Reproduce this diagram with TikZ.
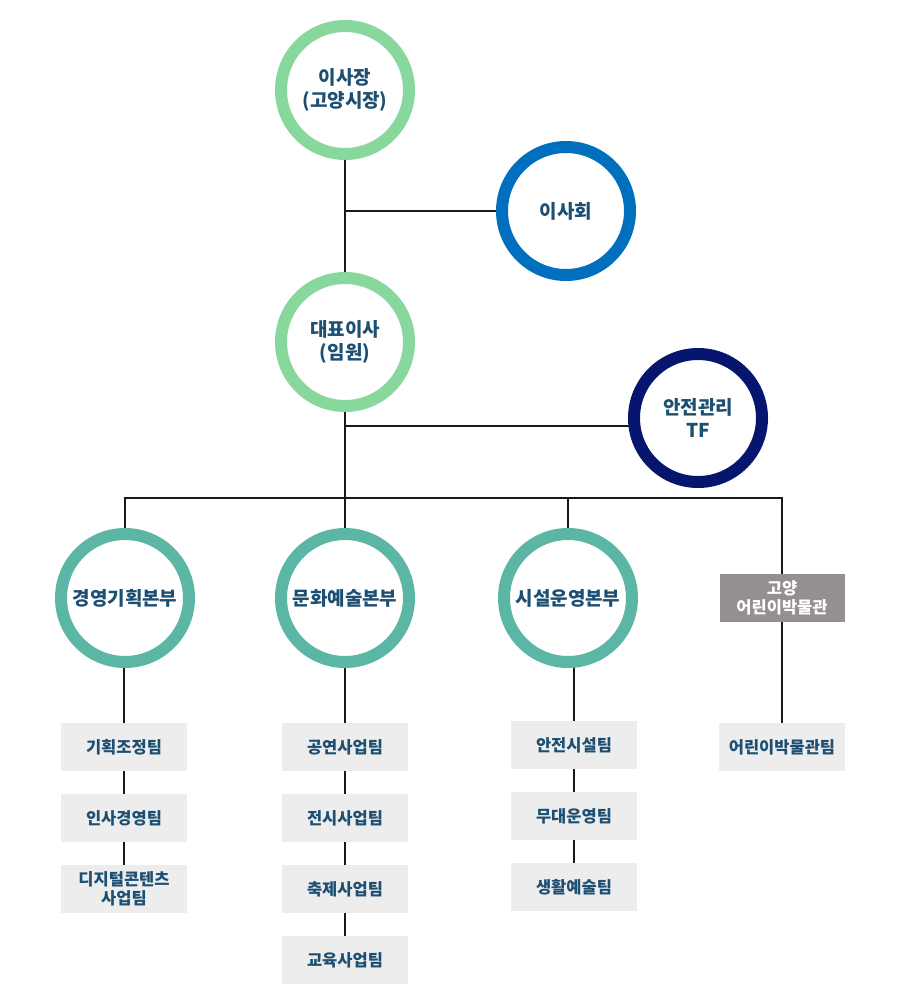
\documentclass[tikz,border=0pt]{standalone}
\usepackage{fontspec}
\setmainfont{Noto Sans CJK KR}
\usetikzlibrary{backgrounds}
\definecolor{lgreen}{HTML}{88D89E}
\definecolor{bblue}{HTML}{0070BE}
\definecolor{navy}{HTML}{06166E}
\definecolor{teal2}{HTML}{5CB6A6}
\definecolor{mgray}{HTML}{958F90}
\definecolor{boxgray}{HTML}{EDEDED}
\definecolor{txt}{HTML}{1D4F73}
\tikzset{
  ring/.style={circle, draw=#1, line width=12pt, fill=white, minimum size=128pt, inner sep=0pt,
    text=txt, font=\fontsize{19}{23}\selectfont\bfseries, align=center},
  team/.style={rectangle, fill=boxgray, minimum width=126pt, minimum height=48pt, inner sep=0pt,
    text=txt, font=\fontsize{16.5}{18.5}\selectfont\bfseries, align=center},
  conn/.style={line width=2pt, draw=black!90}
}
\begin{document}
\begin{tikzpicture}[x=1pt,y=-1pt]
\useasboundingbox (0,0) rectangle (900,1000);
\node[ring=lgreen] (chair) at (345,90) {이사장\\(고양시장)};
\node[ring=bblue] (board) at (566,211) {이사회};
\node[ring=lgreen] (ceo) at (345,342) {대표이사\\(임원)};
\node[ring=navy] (tf) at (698,418) {안전관리\\TF};
\node[ring=teal2] (d1) at (125,598) {경영기획본부};
\node[ring=teal2] (d2) at (345,598) {문화예술본부};
\node[ring=teal2] (d3) at (568,598) {시설운영본부};
\node[rectangle, fill=mgray, minimum width=125pt, minimum height=48pt, inner sep=0pt, text=white,
  font=\fontsize{16.5}{18.5}\selectfont\bfseries, align=center] (mus) at (782,598) {고양\\어린이박물관};
\node[team] (t11) at (124,747) {기획조정팀};
\node[team] (t12) at (124,818) {인사경영팀};
\node[team] (t13) at (124,889) {디지털콘텐츠\\사업팀};
\node[team] (t21) at (345,747) {공연사업팀};
\node[team] (t22) at (345,818) {전시사업팀};
\node[team] (t23) at (345,889) {축제사업팀};
\node[team] (t24) at (345,960) {교육사업팀};
\node[team] (t31) at (574,745) {안전시설팀};
\node[team] (t32) at (574,816) {무대운영팀};
\node[team] (t33) at (574,887) {생활예술팀};
\node[team] (t41) at (782,747) {어린이박물관팀};
\coordinate (j1) at (345,211);
\coordinate (j2) at (345,426);
\coordinate (bus) at (345,498);
\begin{scope}[on background layer]
\draw[conn] (chair.center) -- (ceo.center);
\draw[conn] (j1) -- (board.center);
\draw[conn] (ceo.center) -- (d2.center);
\draw[conn] (j2) -- (j2 -| tf.center);
\draw[conn] (d1.center) |- (bus) -| (mus.center);
\draw[conn] (d3.center) -- (d3.center |- bus);
\draw[conn] (t11 |- d1) -- (t13.center);
\draw[conn] (d2.center) -- (t24.center);
\draw[conn] (d3.center -| t31) -- (t33.center);
\draw[conn] (mus.center) -- (t41.center);
\end{scope}
\end{tikzpicture}
\end{document}
